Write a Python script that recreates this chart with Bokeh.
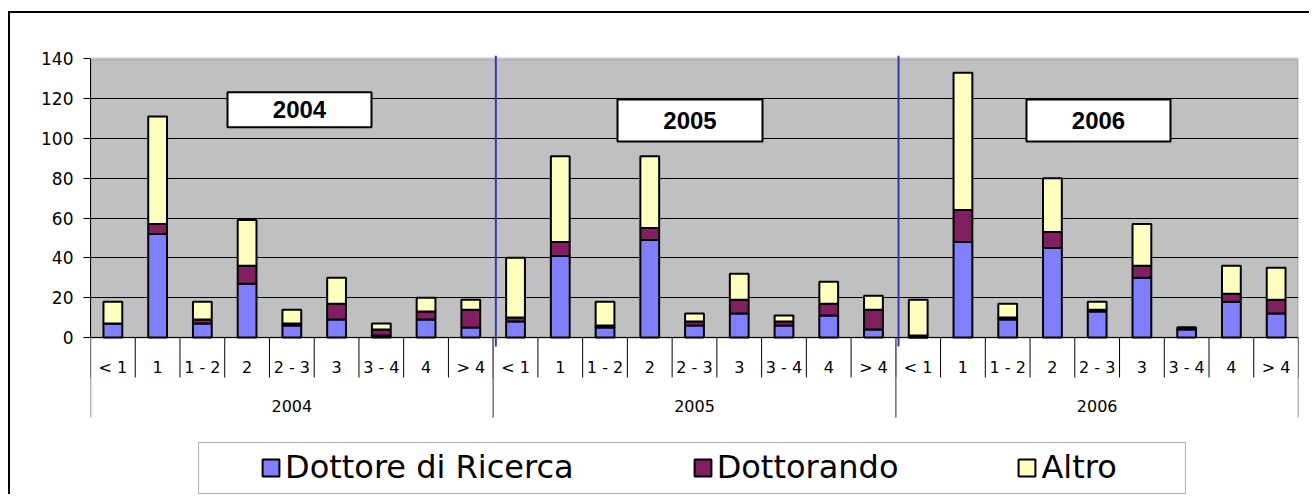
from bokeh.plotting import figure
from bokeh.models import (FactorRange, Range1d, ColumnDataSource, FixedTicker,
                          BoxAnnotation, Legend, LegendItem)
from bokeh.core.properties import value
from bokeh.embed import file_html
from bokeh.resources import INLINE

# ---------------- data ----------------
years = ["2004", "2005", "2006"]
categories = ["< 1", "1", "1 - 2", "2", "2 - 3", "3", "3 - 4", "4", "> 4"]
series_names = ["Dottore di Ricerca", "Dottorando", "Altro"]

dottore_2004 = [7, 52, 7, 27, 6, 9, 1, 9, 5]
dottorando_2004 = [0, 5, 2, 9, 1, 8, 3, 4, 9]
altro_2004 = [11, 54, 9, 23, 7, 13, 3, 7, 5]

dottore_2005 = [8, 41, 5, 49, 6, 12, 6, 11, 4]
dottorando_2005 = [2, 7, 1, 6, 2, 7, 2, 6, 10]
altro_2005 = [30, 43, 12, 36, 4, 13, 3, 11, 7]

dottore_2006 = [0, 48, 9, 45, 13, 30, 4, 18, 12]
dottorando_2006 = [1, 16, 1, 8, 1, 6, 1, 4, 7]
altro_2006 = [18, 69, 7, 27, 4, 21, 0, 14, 16]

y_ticks = [0, 20, 40, 60, 80, 100, 120, 140]

# ---------------- layout (page pixels) ----------------
OX, OY = 10, 13                 # canvas origin on the page
W, H = 1301, 483
FRAME_L, FRAME_R, FRAME_T, FRAME_B = 90, 1298, 55, 496
Y0_PX, YTOP_PX = 337.0, 58.3    # pixel rows of value 0 and 140
K = (Y0_PX - YTOP_PX) / y_ticks[-1]
n = len(years) * len(categories)
CW = (FRAME_R - FRAME_L) / n


def px_x(px):
    return (px - FRAME_L) / CW


def px_y(py):
    return (Y0_PX - py) / K


y_end = px_y(FRAME_T)
y_start = px_y(FRAME_B)

colors = ["#8080FF", "#802060", "#FFFFC0"]

factors = [(yr, c) for yr in years for c in categories]
source = ColumnDataSource(dict(
    x=factors,
    d=dottore_2004 + dottore_2005 + dottore_2006,
    dr=dottorando_2004 + dottorando_2005 + dottorando_2006,
    a=altro_2004 + altro_2005 + altro_2006,
))

p = figure(width=W, height=H,
           x_range=FactorRange(*factors, factor_padding=0, group_padding=0,
                               subgroup_padding=0, range_padding=0),
           y_range=Range1d(y_start, y_end),
           output_backend="svg", toolbar_location=None,
           min_border_left=FRAME_L - OX, min_border_right=OX + W - FRAME_R,
           min_border_top=FRAME_T - OY, min_border_bottom=OY + H - FRAME_B)
p.styles = {"border-left": "2px solid black", "border-top": "2px solid black",
            "margin-top": "11px", "margin-left": "8px"}
p.background_fill_color = "white"
p.border_fill_color = "white"
p.outline_line_color = None

# grey plot area (drawn first, beneath the grid lines)
plot_area = BoxAnnotation(bottom=0, top=y_ticks[-1], fill_color="#C0C0C0",
                          fill_alpha=1, line_color="#808080", line_width=3,
                          level="underlay")
p.center = [plot_area] + list(p.center)

# legend frame
p.add_layout(BoxAnnotation(left=px_x(198), right=px_x(1185), top=px_y(442),
                           bottom=px_y(493), fill_color="white", fill_alpha=1,
                           line_color="black", line_width=1, level="underlay"))

# grid
p.xgrid.grid_line_color = None
p.ygrid.ticker = FixedTicker(ticks=y_ticks[1:-1])
p.ygrid.grid_line_color = "black"
p.ygrid.grid_line_width = 1

# bars
renderers = p.vbar_stack(["d", "dr", "a"], x="x", width=0.42, color=colors,
                         line_color="black", line_width=2, source=source)

# category dividers below the axis
bounds = list(range(n + 1))
p.segment(x0=bounds, y0=[0] * len(bounds), x1=bounds,
          y1=[px_y(377)] * len(bounds), line_color="black", line_width=1)
gb = [i * len(categories) for i in range(len(years) + 1)]
p.segment(x0=gb, y0=[0] * len(gb), x1=gb, y1=[px_y(417)] * len(gb),
          line_color="#707070", line_width=1.5)

# blue vertical separators between years
sep = [i * len(categories) + 0.06 for i in range(1, len(years))]
p.segment(x0=sep, y0=[px_y(346)] * len(sep), x1=sep, y1=[y_end] * len(sep),
          line_color="#3838A8", line_width=2)

# year boxes
box_src = ColumnDataSource(dict(
    x=[px_x(299), px_x(689.5), px_x(1098)],
    y=[px_y(109.2), px_y(120), px_y(120)],
    w=[144, 145, 144], h=[35, 42, 42], t=years))
p.rect(x="x", y="y", width="w", height="h", width_units="screen",
       height_units="screen", fill_color="white", line_color="black",
       line_width=2, source=box_src)
p.text(x="x", y="y", text="t", text_align="center", text_baseline="middle",
       text_font=value("Liberation Sans"), text_font_style="bold",
       text_font_size="24px", text_color="black", source=box_src)

# axes
yax = p.yaxis[0]
yax.ticker = FixedTicker(ticks=y_ticks)
yax.bounds = (0, y_ticks[-1])
yax.axis_line_color = "black"
yax.major_tick_line_color = "black"
yax.major_tick_out = 7
yax.major_tick_in = 0
yax.minor_tick_line_color = None
yax.major_label_standoff = 10
yax.major_label_text_font = "DejaVu Sans"
yax.major_label_text_font_size = "17px"
yax.major_label_text_color = "black"

xax = p.xaxis[0]
xax.fixed_location = 0
xax.axis_line_color = "black"
xax.major_tick_out = 0
xax.major_tick_in = 0
xax.major_tick_line_color = None
xax.major_label_standoff = 20
xax.major_label_text_font = "DejaVu Sans"
xax.major_label_text_font_size = "16px"
xax.major_label_text_color = "black"
xax.group_text_font = "DejaVu Sans"
xax.group_text_font_size = "16px"
xax.group_text_font_style = "normal"
xax.group_text_color = "black"
try:
    xax.separator_line_color = None
except Exception:
    pass

# legend
legend = Legend(items=[LegendItem(label=s, renderers=[r])
                       for s, r in zip(series_names, renderers)],
                orientation="horizontal", location=(260 - FRAME_L, FRAME_B - 486),
                padding=0, margin=0, spacing=118, label_standoff=4,
                glyph_width=21, glyph_height=21,
                label_text_font="DejaVu Sans", label_text_font_size="32px",
                label_text_color="black", border_line_color=None,
                background_fill_alpha=0)
p.add_layout(legend)

open("out.html", "w").write(file_html(p, INLINE))
